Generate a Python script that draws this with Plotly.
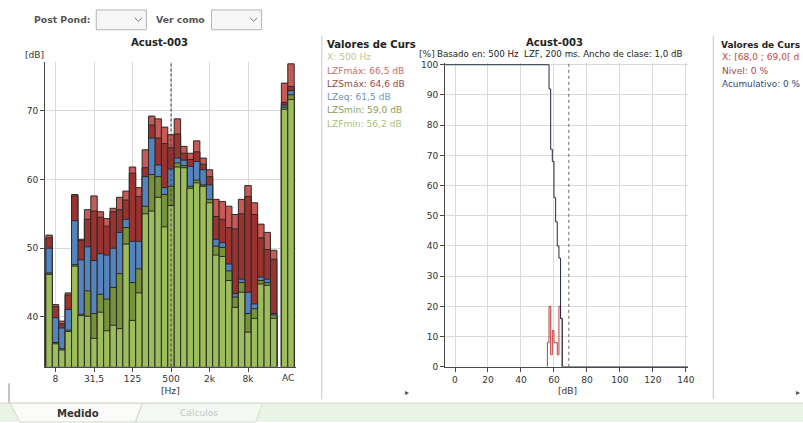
import plotly.graph_objects as go

# reference canvas (pixel coordinates below are in this frame)
W, H = 803, 423
S = 811 / 803.0          # render-size compensation (page is shown scaled)
FW, FH = 811, 427
FONT = "DejaVu Sans"


def px(x):
    return x / W


def py(y):
    return 1 - y / H


def fs(v):
    return v * S


# ---------------- data ----------------
bands = ["6,3", "8", "10", "12,5", "16", "20", "25", "31,5", "40", "50", "63", "80",
         "100", "125", "160", "200", "250", "315", "400", "500", "630", "800", "1k",
         "1,25k", "1,6k", "2k", "2,5k", "3,15k", "4k", "5k", "6,3k", "8k", "10k",
         "12,5k", "16k", "20k"]
totals = ["A", "C"]

LZFmax = [51.9, 41.8, 39.4, 43.5, 57.8, 51.3, 55.6, 57.6, 55.3, 54.3, 55.8, 57.4,
          58.3, 61.8, 58.8, 64.3, 69.2, 68.8, 67.6, 66.5, 68.8, 64.8, 63.8, 65.6,
          63.1, 61.4, 57.1, 56.8, 56.1, 54.9, 57.1, 59.1, 56.6, 53.5, 52.3, 49.7,
          74.0, 76.8]
LZSmax = [51.5, 41.5, 39.0, 43.2, 57.6, 51.1, 54.2, 55.4, 54.5, 53.2, 55.3, 55.6,
          57.0, 60.9, 57.5, 61.7, 67.9, 66.0, 65.2, 64.6, 66.6, 63.8, 62.9, 64.0,
          62.2, 60.4, 54.6, 54.2, 53.0, 52.8, 55.0, 57.5, 54.9, 51.5, 49.8, 48.4,
          71.2, 73.5]
LZeq = [50.0, 39.9, 38.4, 41.1, 54.0, 48.3, 50.2, 48.2, 49.2, 49.0, 50.0, 52.3,
        54.2, 51.0, 51.0, 60.4, 66.0, 62.1, 58.8, 61.5, 63.1, 62.8, 61.9, 62.6,
        61.4, 59.2, 51.3, 50.8, 47.7, 43.4, 45.5, 43.6, 41.9, 45.8, 45.5, 40.5,
        70.8, 72.9]
LZSmin = [46.4, 36.3, 35.4, 38.1, 47.6, 40.4, 43.8, 40.5, 43.3, 42.6, 44.3, 46.3,
          53.0, 45.0, 47.0, 56.1, 60.7, 60.4, 57.8, 59.0, 62.4, 62.0, 59.0, 59.9,
          59.2, 57.1, 50.3, 50.1, 46.7, 42.9, 45.0, 40.5, 41.2, 45.3, 45.0, 40.3,
          70.5, 72.3]
LZFmin = [46.2, 36.1, 35.2, 37.9, 47.4, 40.2, 40.1, 36.9, 40.7, 38.0, 38.8, 38.3,
          50.6, 39.5, 43.5, 55.0, 55.4, 57.4, 53.1, 56.2, 61.8, 61.7, 58.7, 59.5,
          59.0, 56.6, 49.0, 48.8, 45.3, 41.4, 43.6, 37.8, 39.8, 44.8, 44.6, 39.8,
          70.2, 71.6]

tick_bands = ["8", "31,5", "125", "500", "2k", "8k"]
cursor_band = "500"

hist_levels = [56, 57, 58, 59, 60, 61, 62, 63, 64]
hist_pct = [8, 20, 4, 12, 8, 8, 4, 20, 16]
cum_levels = [56, 57, 58, 59, 60, 61, 62, 63, 64, 65]
cum_pct = [100, 92, 72, 68, 56, 48, 40, 36, 16, 0]
cursor_class = [68.0, 69.0]
cursor_nivel = 0
cursor_acum = 0

# ---------------- figure ----------------
nb = len(bands)
pos = list(range(nb)) + [nb + 0.7, nb + 1.7]
labels_all = bands + totals

series = [
    ("LZFmáx", LZFmax, "#c65a55"),
    ("LZSmáx", LZSmax, "#9a3330"),
    ("LZeq", LZeq, "#5583be"),
    ("LZSmín", LZSmin, "#76923b"),
    ("LZFmín", LZFmin, "#9dbd5c"),
]

fig = go.Figure()
for name, vals, col in series:
    fig.add_trace(go.Bar(
        x=pos, y=vals, width=1.0, name=name, customdata=labels_all,
        marker=dict(color=col, line=dict(color="#2a2a2a", width=1)),
        xaxis="x", yaxis="y", showlegend=False,
        hovertemplate="%{customdata}: %{y} dB<extra>" + name + "</extra>"))

# histogram (red) and cumulative (dark) step lines
hx = [hist_levels[0]] + [lv + 1 for lv in hist_levels] + [hist_levels[-1] + 1]
hy = [0] + hist_pct + [0]
fig.add_trace(go.Scatter(x=hx, y=hy, mode="lines", line=dict(color="#c23b3b", width=1, shape="vh"),
                         xaxis="x2", yaxis="y2", showlegend=False))
X2MIN, X2MAX = -6.0, 141.5
cx = [X2MIN] + cum_levels + [X2MAX]
cy = [cum_pct[0]] + cum_pct + [cum_pct[-1]]
fig.add_trace(go.Scatter(x=cx, y=cy, mode="lines", line=dict(color="#1f2b3d", width=1, shape="hv"),
                         xaxis="x2", yaxis="y2", showlegend=False))

tickfont = dict(family=FONT, size=fs(9), color="#333333")
axis_common = dict(showline=True, linecolor="#4a4a4a", linewidth=1, ticks="outside", ticklen=4,
                   tickcolor="#4a4a4a", gridcolor="#d9d9d9", gridwidth=1, zeroline=False,
                   tickfont=tickfont, fixedrange=True)

fig.update_layout(
    width=FW, height=FH, autosize=False,
    margin=dict(l=0, r=0, t=0, b=0, pad=0),
    paper_bgcolor="white", plot_bgcolor="white",
    barmode="overlay", bargap=0,
    font=dict(family=FONT, size=fs(9), color="#333333"),
    xaxis=dict(domain=[px(45), px(295.4)], range=[-0.62, 38.5], anchor="y",
               tickmode="array", tickvals=[bands.index(t) for t in tick_bands], ticktext=tick_bands,
               showgrid=True, **axis_common),
    yaxis=dict(domain=[py(367), py(60)], range=[32.8, 77.0], anchor="x",
               tickmode="array", tickvals=[40, 50, 60, 70], showgrid=True, **axis_common),
    xaxis2=dict(domain=[px(444), px(686.7)], range=[X2MIN, X2MAX], anchor="y2",
                tick0=0, dtick=20, showgrid=True, **axis_common),
    yaxis2=dict(domain=[py(367.3), py(60.5)], range=[0, 100.6], anchor="x2",
                tick0=0, dtick=10, showgrid=True, **axis_common),
)

shapes = []
ci = bands.index(cursor_band)
shapes.append(dict(type="line", xref="x", yref="paper", x0=ci, x1=ci, y0=py(367), y1=py(60),
                   line=dict(color="#3a3a3a", width=1, dash="3px,2px")))
shapes.append(dict(type="line", xref="x2", yref="paper", x0=cursor_class[1], x1=cursor_class[1],
                   y0=py(367.3), y1=py(60.5), line=dict(color="#666666", width=1, dash="dot")))

# separators
for sx in (321, 711.5):
    shapes.append(dict(type="line", xref="paper", yref="paper", x0=px(sx), x1=px(sx), y0=py(33), y1=py(400),
                       line=dict(color="#c8c8c8", width=1)))
shapes.append(dict(type="line", xref="paper", yref="paper", x0=px(9), x1=px(9), y0=py(384), y1=py(404),
                   line=dict(color="#8a8a8a", width=1)))

# dropdown boxes
for (bx0, bx1) in ((96, 146), (211, 261)):
    shapes.append(dict(type="rect", xref="paper", yref="paper", x0=px(bx0), x1=px(bx1), y0=py(27), y1=py(7),
                       fillcolor="#f6f6f6", line=dict(color="#b4b4b4", width=1), layer="below"))
    cxp = bx1 - 8
    path = "M {} {} L {} {} L {} {}".format(px(cxp - 3.5), py(15), px(cxp), py(18.5), px(cxp + 3.5), py(15))
    shapes.append(dict(type="path", xref="paper", yref="paper", path=path,
                       line=dict(color="#7a7a7a", width=1)))

# bottom tab strip
shapes.append(dict(type="rect", xref="paper", yref="paper", x0=0, x1=1, y0=0, y1=py(404),
                   fillcolor="#eaf4e6", line=dict(width=0), layer="below"))
shapes.append(dict(type="line", xref="paper", yref="paper", x0=0, x1=1, y0=py(404), y1=py(404),
                   line=dict(color="#d0d8cc", width=1)))


def poly(pts):
    s = "M " + " L ".join("{} {}".format(px(a), py(b)) for a, b in pts) + " Z"
    return s


shapes.append(dict(type="path", xref="paper", yref="paper",
                   path=poly([(142, 404), (262, 404), (255, 423), (135, 423)]),
                   fillcolor="#f4f8f2", line=dict(color="#d4dcd0", width=1)))
shapes.append(dict(type="path", xref="paper", yref="paper",
                   path=poly([(10, 404), (142, 404), (135, 423), (20, 423)]),
                   fillcolor="#fbfcfa", line=dict(color="#cfd6cb", width=1)))
fig.update_layout(shapes=shapes)


def fmt(v):
    return ("%.1f" % v).replace(".", ",")


def ann(text, x, y, size=9, color="#333333", bold=False, xanchor="left", xref="paper"):
    t = "<b>" + text + "</b>" if bold else text
    return dict(text=t, x=(x if xref != "paper" else px(x)), y=py(y), xref=xref, yref="paper",
                xanchor=xanchor, yanchor="middle", showarrow=False, borderpad=0,
                font=dict(family=FONT, size=fs(size), color=color))


anns = [
    ann("Post Pond:", 33, 17, size=9.2, color="#555555", bold=True),
    ann("Ver como", 155, 17, size=9.2, color="#555555", bold=True),
    ann("Acust-003", 159, 40, size=10, color="#222222", bold=True, xanchor="center"),
    ann("[dB]", 34, 53, size=9, xanchor="center"),
    ann("[Hz]", 170, 392, size=9, xanchor="center"),
    ann("AC", nb + 1.2, 379, size=9, xanchor="center", xref="x"),
    ann("Valores de Curs", 325, 42, size=10, color="#222222", bold=True),
    ann("X: " + cursor_band + " Hz", 325, 55, color="#c4c68c"),
]
ys = [68.3, 81.7, 95, 108.3, 121.7]
cols = ["#c86e6a", "#9c4a46", "#6f92c2", "#8aa05a", "#a9c27a"]
for (name, vals, _), yy, cc in zip(series, ys, cols):
    anns.append(ann("%s: %s dB" % (name, fmt(vals[ci])), 325, yy, color=cc))

anns += [
    ann("Acust-003", 553, 40, size=10, color="#222222", bold=True, xanchor="center"),
    ann("[%]", 417, 51, size=9),
    ann("Basado en: 500 Hz\u00a0 LZF, 200 ms. Ancho de clase: 1,0 dB", 435, 51, size=8.6, color="#222222"),
    ann("[dB]", 566, 392, size=9, xanchor="center"),
    ann("Valores de Curs", 718, 42, size=8.9, color="#222222", bold=True),
    ann("X: [%s ; %s[ d" % (fmt(cursor_class[0]), fmt(cursor_class[1])), 719, 55, size=9, color="#c24848"),
    ann("Nivel: %d %%" % cursor_nivel, 719, 68.3, size=9, color="#a04a48"),
    ann("Acumulativo: %d %%" % cursor_acum, 719, 81.7, size=8.8, color="#34477a"),
    ann("Medido", 78, 414, size=10, color="#333333", bold=True, xanchor="center"),
    ann("Cálculos", 199, 414, size=9, color="#c4c8c2", xanchor="center"),
    ann("\u25b8", 406, 393, size=8, color="#555555", xanchor="center"),
    ann("\u25b8", 797, 393, size=8, color="#555555", xanchor="center"),
]
fig.update_layout(annotations=anns)

post = ("document.documentElement.style.margin='0';document.documentElement.style.padding='0';"
        "document.documentElement.style.overflow='hidden';"
        "document.body.style.margin='0';document.body.style.padding='0';document.body.style.overflow='hidden';")

fig.write_html("out.html", config={"displayModeBar": False, "staticPlot": True}, post_script=post)
